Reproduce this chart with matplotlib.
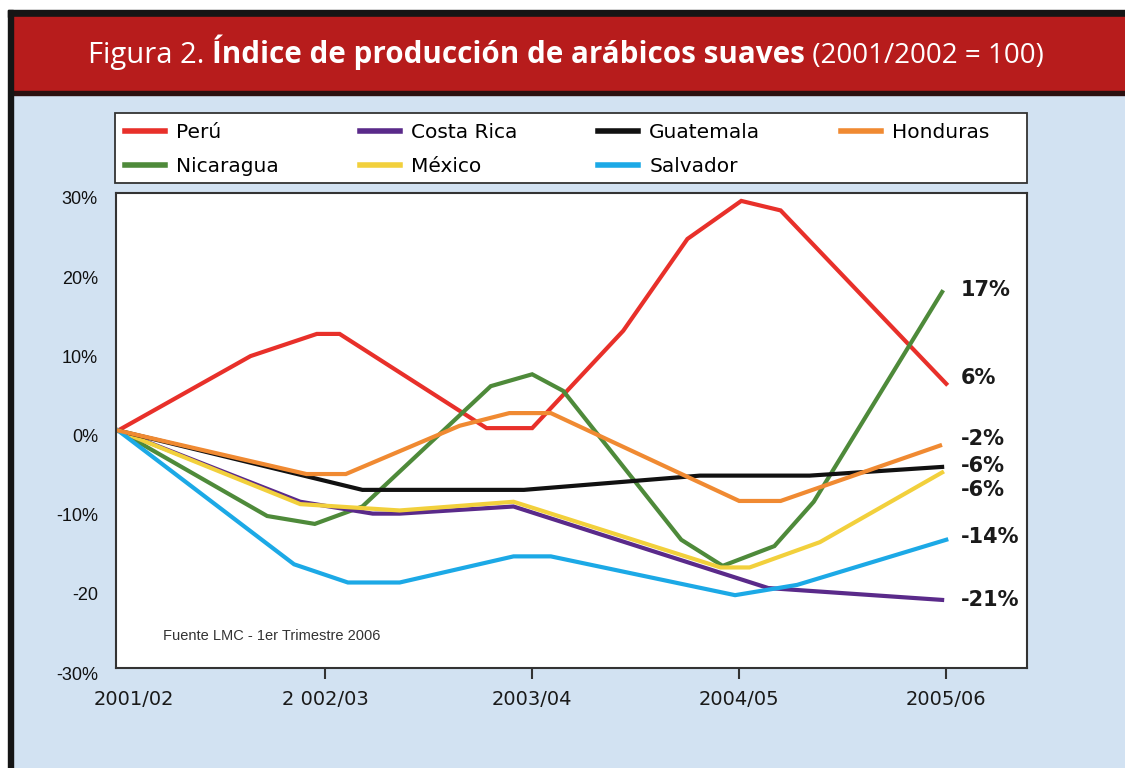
import numpy as np
import matplotlib
matplotlib.use("Agg")
import matplotlib.pyplot as plt
from matplotlib.patches import Rectangle
from matplotlib.transforms import ScaledTranslation

# season positions (0 = 2001/02) and values in % vs 2001/02
seasons = ["2001/02", "2 002/03", "2003/04", "2004/05", "2005/06"]
y_ticks = [30, 20, 10, 0, -10, -20, -30]
y_ticklabels = ["30%", "20%", "10%", "0%", "-10%", "-20", "-30%"]

peru_x = [0, 0.64, 0.96, 1.07, 1.78, 2.0, 2.44, 2.75, 3.01, 3.2, 4.0]
peru_y = [0, 9.4, 12.2, 12.2, 0.3, 0.3, 12.6, 24.2, 29.0, 27.8, 5.9]
cr_x = [0, 0.88, 1.23, 1.36, 1.91, 3.14, 3.98]
cr_y = [0, -9.0, -10.5, -10.5, -9.6, -19.9, -21.4]
gua_x = [0, 1.18, 1.96, 2.81, 3.34, 3.98]
gua_y = [0, -7.5, -7.5, -5.7, -5.7, -4.6]
hon_x = [0, 0.91, 1.10, 1.65, 1.89, 2.09, 3.0, 3.2, 3.97]
hon_y = [0, -5.5, -5.5, 0.6, 2.2, 2.2, -8.9, -8.9, -1.9]
nic_x = [0, 0.72, 0.95, 1.18, 1.80, 2.0, 2.15, 2.72, 2.92, 3.17, 3.36, 3.98]
nic_y = [0, -10.8, -11.8, -9.6, 5.6, 7.1, 5.0, -13.8, -17.1, -14.6, -9.0, 17.5]
mex_x = [0, 0.88, 1.36, 1.91, 2.91, 3.05, 3.39, 3.98]
mex_y = [0, -9.3, -10.1, -9.0, -17.3, -17.3, -14.1, -5.3]
sal_x = [0, 0.85, 1.11, 1.36, 1.91, 2.09, 2.98, 3.28, 4.0]
sal_y = [0, -16.9, -19.2, -19.2, -15.9, -15.9, -20.8, -19.5, -13.8]

end_labels = ["17%", "6%", "-2%", "-6%", "-6%", "-14%", "-21%"]
end_label_y = [17.7, 6.6, -1.1, -4.5, -7.5, -13.5, -21.4]

W, H = 1125, 768
fig = plt.figure(figsize=(W / 100, H / 100), dpi=100)
fig.patch.set_facecolor("#d2e2f2")

def band(px0, py0, pw, ph, color, **kw):
    # rectangle given in pixels from the top-left corner
    fig.patches.append(Rectangle((px0 / W, 1 - (py0 + ph) / H), pw / W, ph / H,
                                 transform=fig.transFigure, color=color, zorder=0, **kw))

band(0, 0, W, 10, "white")
band(0, 0, 8, H, "white")
band(8, 10, W, 7, "#151515")
band(13, 17, W, 75, "#b71c1c")
band(13, 91, W, 4, "#2a1010")
band(8, 10, 5, H, "#151515")

# legend box
fig.patches.append(Rectangle((115 / W, 1 - 183 / H), 912 / W, 70 / H, transform=fig.transFigure,
                             facecolor="white", edgecolor="#333333", lw=1.3, zorder=1))

# title in pieces: normal / bold / smaller normal
renderer = fig.canvas.get_renderer()
tx = 88 / W
ty = 1 - 63 / H
parts = [("Figura 2. ", "normal", 21), ("Índice de producción de arábicos suaves", "bold", 21.3),
         (" (2001/2002 = 100)", "normal", 20)]
for s, wgt, fs in parts:
    t = fig.text(tx, ty, s, color="white", fontsize=fs, fontweight=wgt,
                 family="Open Sans", va="baseline")
    bb = t.get_window_extent(renderer)
    tx += bb.width / W

ax = fig.add_axes([116 / W, 1 - 668 / H, 911 / W, 475 / H])
ax.set_facecolor("white")

series = [
    ("Perú", peru_x, peru_y, "#e8302a"),
    ("Nicaragua", nic_x, nic_y, "#4e8a3a"),
    ("Costa Rica", cr_x, cr_y, "#5a2a8a"),
    ("México", mex_x, mex_y, "#f2d03c"),
    ("Guatemala", gua_x, gua_y, "#111111"),
    ("Salvador", sal_x, sal_y, "#1ca9e6"),
    ("Honduras", hon_x, hon_y, "#f08a32"),
]
handles = {}
for name, xs, ys, col in series:
    ln, = ax.plot(xs, ys, color=col, lw=3, solid_joinstyle="miter", label=name)
    handles[name] = ln

ax.set_xlim(-0.01, 4.39)
ax.set_ylim(-30, 30)
ax.set_xticks(range(len(seasons)))
ax.set_xticklabels(seasons, family="DejaVu Sans", fontsize=14, color="#1a1a1a")
ax.set_yticks(y_ticks)
ax.set_yticklabels(y_ticklabels, family="Liberation Sans", fontsize=13, color="#111111")
ax.tick_params(axis="y", length=0, pad=13)
ax.tick_params(axis="x", length=8, width=1.5, direction="out", pad=8, color="#333333")
ax.xaxis.get_major_ticks()[0].tick1line.set_visible(False)
for lbl in ax.get_yticklabels():
    lbl.set_transform(lbl.get_transform() + ScaledTranslation(0, -5 / 100, fig.dpi_scale_trans))
first = ax.get_xticklabels()[0]
first.set_transform(first.get_transform() + ScaledTranslation(16 / 100, 0, fig.dpi_scale_trans))
for sp in ax.spines.values():
    sp.set_color("#333333")
    sp.set_linewidth(1.5)

for lab, yv in zip(end_labels, end_label_y):
    ax.text(4.07, yv, lab, fontsize=15, fontweight="bold", family="DejaVu Sans",
            color="#1a1a1a", va="center", ha="left")

ax.text(0.052, 0.067, "Fuente LMC - 1er Trimestre 2006", transform=ax.transAxes,
        fontsize=10.5, family="Liberation Sans", color="#333333", va="center")

leg = fig.legend(handles=[handles[s[0]] for s in series], ncol=4,
                 bbox_to_anchor=(115 / W, 1 - 113 / H), loc="upper left",
                 prop={"family": "DejaVu Sans", "size": 14.5}, frameon=False,
                 handlelength=2.0, handletextpad=0.55, borderaxespad=0, labelspacing=0.75,
                 borderpad=0.5, columnspacing=4.0)
leg.set_zorder(2)
for h in leg.get_lines():
    h.set_linewidth(4)

fig.savefig("out.png", dpi=100, facecolor=fig.get_facecolor())
